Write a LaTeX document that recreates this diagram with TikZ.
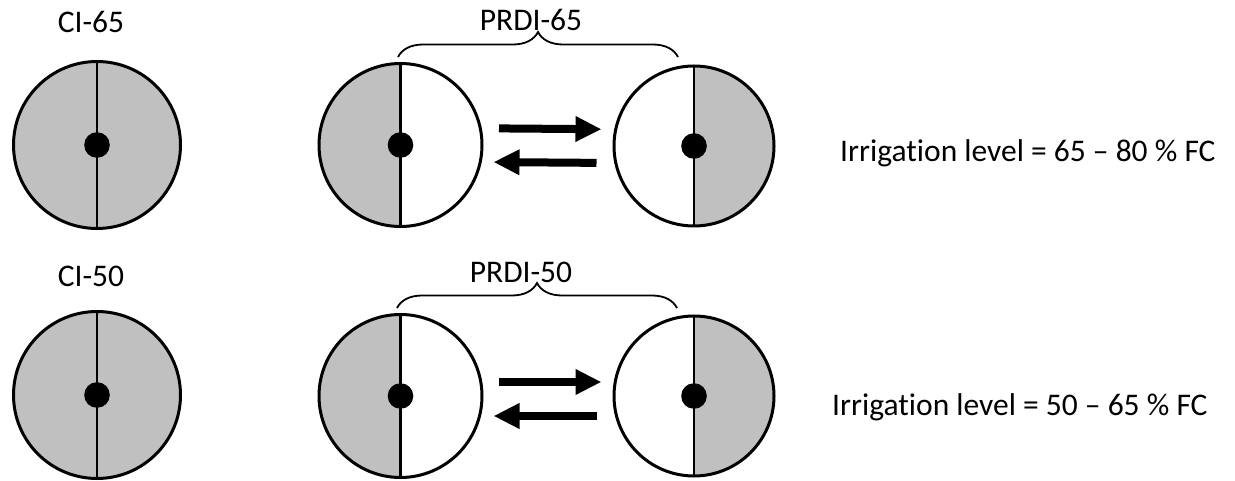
\documentclass[tikz,border=0pt]{standalone}
\usepackage{fontspec}
\setmainfont{Carlito}[Ligatures=NoCommon]
\usetikzlibrary{arrows.meta,decorations.pathreplacing}
\definecolor{soil}{HTML}{C0C0C0}
\begin{document}
\begin{tikzpicture}[x=1pt,y=-1pt,
  every node/.append style={font=\fontsize{31.5pt}{38pt}\selectfont},
  disc/.style={circle, draw, line width=3pt, inner sep=0pt},
  divider/.style={line width=2.6pt, draw=black},
  hub/.style={fill=black},
  fullwet/.style={disc, fill=soil, minimum size=167pt,
    path picture={
      \draw[divider] (path picture bounding box.north) -- (path picture bounding box.south);
      \fill[hub] (path picture bounding box.center) circle[radius=12.8pt];}},
  leftwet/.style={disc, minimum size=163pt,
    path picture={
      \fill[soil] (path picture bounding box.south west) rectangle (path picture bounding box.north);
      \draw[divider] (path picture bounding box.north) -- (path picture bounding box.south);
      \fill[hub] (path picture bounding box.center) circle[radius=12.8pt];}},
  rightwet/.style={disc, minimum size=160pt,
    path picture={
      \fill[soil] (path picture bounding box.south east) rectangle (path picture bounding box.north);
      \draw[divider] (path picture bounding box.north) -- (path picture bounding box.south);
      \fill[hub] (path picture bounding box.center) circle[radius=12.8pt];}},
  flow/.style={line width=8pt, -{Triangle[length=26pt,width=24pt]}},
  bracket/.style={decorate, decoration={brace, amplitude=25pt}, line width=1.8pt},
  label/.style={anchor=base, inner sep=0pt},
  level/.style={anchor=base west, inner sep=0pt}
]
\useasboundingbox (0,0) rectangle (1235,481);

% Row 1
\node[label] (ci65) at (91,33) {CI-65};
\node[fullwet] (c1) at (97,145) {};
\node[leftwet] (l1) at (400.5,145) {};
\node[rightwet] (r1) at (694,146) {};
\draw[flow, shorten <=15.5pt, shorten >=11pt] ([yshift=16.7pt]l1.east) -- ([yshift=16.7pt]r1.west);
\draw[flow, shorten <=16pt, shorten >=10pt] ([yshift=-17pt]r1.west) -- ([yshift=-17pt]l1.east);
\coordinate (b1a) at (398,57);
\coordinate (b1b) at (678,57);
\draw[bracket] (b1a) -- (b1b);
\node[label] (prdi65) at (531,31) {PRDI-65};
\node[level] (lev1) at (840,162) {Irrigat\kern0pt ion level = 65 – 80 \% FC};

% Row 2
\node[label] (ci50) at (91,287) {CI-50};
\node[fullwet] (c2) at (97,395) {};
\node[leftwet] (l2) at (400.5,396) {};
\node[rightwet] (r2) at (694,396) {};
\draw[flow, shorten <=15.5pt, shorten >=11pt] ([yshift=14pt]l2.east) -- ([yshift=14pt]r2.west);
\draw[flow, shorten <=16pt, shorten >=10pt] ([yshift=-20pt]r2.west) -- ([yshift=-20pt]l2.east);
\coordinate (b2a) at (397,308);
\coordinate (b2b) at (677,308);
\draw[bracket] (b2a) -- (b2b);
\node[label] (prdi50) at (521,283) {PRDI-50};
\node[level] (lev2) at (832,415) {Irrigat\kern0pt ion level = 50 – 65 \% FC};
\end{tikzpicture}
\end{document}
